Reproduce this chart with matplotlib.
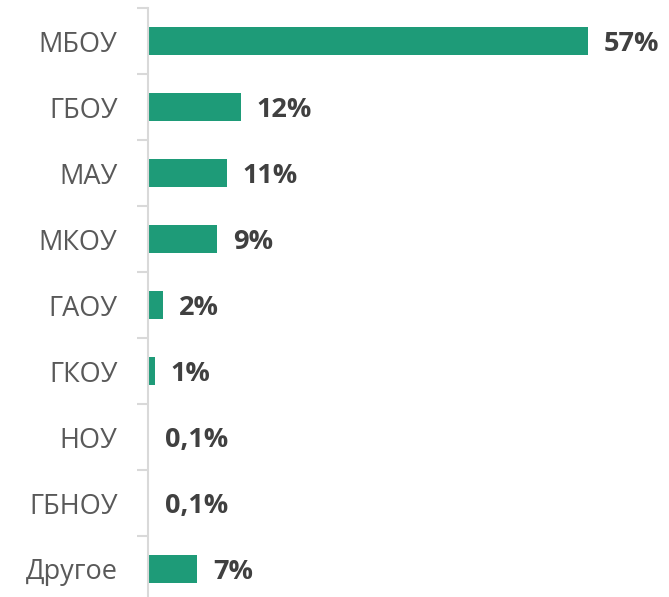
import matplotlib
matplotlib.use("Agg")
import matplotlib.pyplot as plt
import numpy as np

categories = ["МБОУ", "ГБОУ", "МАУ", "МКОУ", "ГАОУ", "ГКОУ", "НОУ", "ГБНОУ", "Другое"]
values = [57, 12, 10.2, 8.9, 1.9, 0.9, 0.1, 0.1, 6.4]
labels = ["57%", "12%", "11%", "9%", "2%", "1%", "0,1%", "0,1%", "7%"]

plt.rcParams['font.family'] = ['Open Sans', 'DejaVu Sans']

W, H = 669, 597
fig = plt.figure(figsize=(W / 100, H / 100), dpi=100)
ax = fig.add_axes([148 / W, -5 / H, (W - 148) / W, 594 / H])

y = np.arange(len(categories))
ax.barh(y, values, height=0.43, color="#1e9b78", zorder=2)
ax.set_ylim(len(categories) - 0.5, -0.5)
ax.set_xlim(0, 57 * 521 / 440)

for yi, v, lab in zip(y, values, labels):
    ax.annotate(lab, (v, yi), xytext=(11.5, -2.5), textcoords="offset points",
                ha="left", va="center", fontsize=19.5, fontweight="bold", color="#404040")

ax.set_yticks(y)
ax.set_yticklabels(categories, fontsize=19.5, color="#595959")
ax.set_yticks(np.arange(len(categories) + 1) - 0.5, minor=True)
ax.tick_params(axis="y", which="major", length=0, pad=22)
ax.tick_params(axis="y", which="minor", length=8, width=1.5, color="#d9d9d9")
ax.set_xticks([])
for s in ["top", "right", "bottom"]:
    ax.spines[s].set_visible(False)
ax.spines["left"].set_color("#d9d9d9")
ax.spines["left"].set_linewidth(1.5)

fig.savefig("out.png", dpi=100)
